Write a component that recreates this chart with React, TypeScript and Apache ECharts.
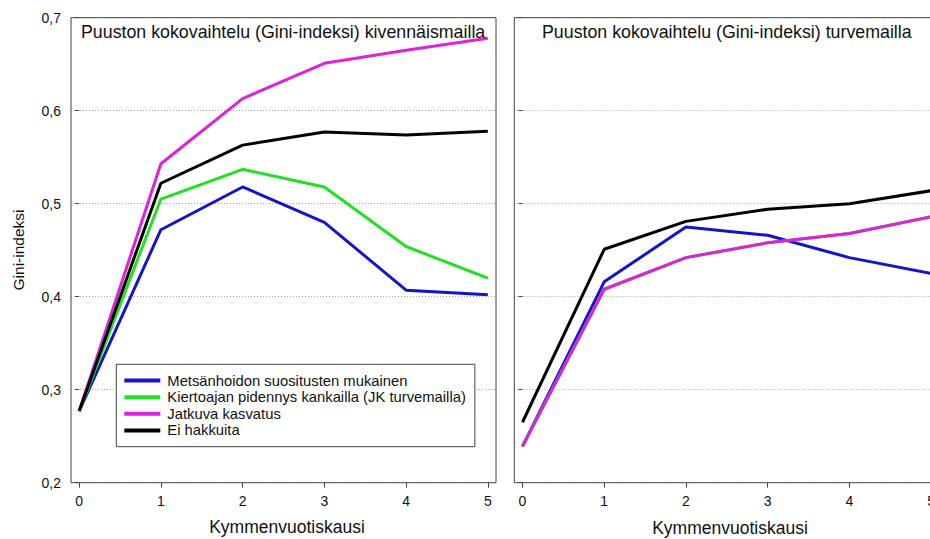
import React, { useEffect, useRef } from "react";
import * as echarts from "echarts";

const periods = [0, 1, 2, 3, 4, 5];
const seriesNames = [
  "Metsänhoidon suositusten mukainen",
  "Kiertoajan pidennys kankailla (JK turvemailla)",
  "Jatkuva kasvatus",
  "Ei hakkuita",
];
const colors = ["#1414c8", "#22e022", "#dc22dc", "#000000"];

// Kivennäismaat (left panel)
const mineralBlue = [0.277, 0.472, 0.518, 0.480, 0.407, 0.402];
const mineralGreen = [0.277, 0.505, 0.537, 0.518, 0.454, 0.420];
const mineralMagenta = [0.277, 0.543, 0.613, 0.651, 0.665, 0.678];
const mineralBlack = [0.277, 0.522, 0.563, 0.577, 0.574, 0.578];

// Turvemaat (right panel)
const peatBlue = [0.239, 0.416, 0.475, 0.466, 0.442, 0.425];
const peatGreen = [0.239, 0.408, 0.442, 0.458, 0.468, 0.486];
const peatMagenta = [0.239, 0.408, 0.442, 0.458, 0.468, 0.486];
const peatBlack = [0.265, 0.451, 0.481, 0.494, 0.500, 0.514];

const panelTitles = [
  "Puuston kokovaihtelu (Gini-indeksi) kivennäismailla",
  "Puuston kokovaihtelu (Gini-indeksi) turvemailla",
];
const xAxisTitle = "Kymmenvuotiskausi";
const yAxisTitle = "Gini-indeksi";

const FONT = "'Liberation Sans', Arial, sans-serif";

export default function App() {
  const ref = useRef<HTMLDivElement>(null);

  useEffect(() => {
    if (!ref.current) return;
    const chart = echarts.init(ref.current, null, { renderer: "svg" });

    const grids = [
      { left: 71, top: 17.7, width: 425, height: 465 },
      { left: 514.3, top: 17.7, width: 425, height: 465 },
    ];

    const toPairs = (vals: number[]) => periods.map((p, i) => [p, vals[i]]);
    const panels = [
      [mineralBlue, mineralGreen, mineralMagenta, mineralBlack],
      [peatBlue, peatGreen, peatMagenta, peatBlack],
    ];

    const series: any[] = [];
    panels.forEach((panel, pi) => {
      panel.forEach((vals, si) => {
        series.push({
          name: seriesNames[si],
          type: "line",
          xAxisIndex: pi,
          yAxisIndex: pi,
          data: toPairs(vals),
          showSymbol: false,
          symbol: "none",
          lineStyle: { color: colors[si], width: 3 },
          itemStyle: { color: colors[si] },
          z: 2 + si,
          clip: true,
        });
      });
    });

    const xAxes = grids.map((_, gi) => ({
      type: "value",
      gridIndex: gi,
      min: -0.1,
      max: 5.1,
      axisLine: { show: false },
      splitLine: { show: false },
      axisTick: {
        show: true,
        customValues: periods,
        length: 5,
        lineStyle: { color: "#444", width: 1 },
      },
      axisLabel: {
        customValues: periods,
        margin: 11,
        color: "#111",
        fontSize: 14,
        fontFamily: FONT,
        formatter: (v: number) => String(v),
      },
    }));

    const yAxes = grids.map((_, gi) => ({
      type: "value",
      gridIndex: gi,
      min: 0.2,
      max: 0.7,
      interval: 0.1,
      axisLine: { show: false },
      axisTick: { show: true, length: 4, lineStyle: { color: "#444", width: 1 } },
      splitLine: {
        show: true,
        lineStyle: { color: "#a8a8a8", width: 1, type: [1, 2] },
      },
      axisLabel: {
        show: gi === 0,
        margin: 10,
        color: "#111",
        fontSize: 14,
        fontFamily: FONT,
        formatter: (v: number) => v.toFixed(1).replace(".", ","),
      },
    }));

    const graphic: any[] = [];
    grids.forEach((g, gi) => {
      graphic.push({
        type: "rect",
        shape: { x: g.left, y: g.top, width: g.width, height: g.height },
        style: { fill: "none", stroke: "#444", lineWidth: 1 },
        z: 100,
        silent: true,
      });
      graphic.push({
        type: "text",
        x: gi === 0 ? 81 : 542,
        y: 31.5,
        style: {
          text: panelTitles[gi],
          fontSize: 17.8,
          fontFamily: FONT,
          fill: "#111",
          textAlign: "left",
          textVerticalAlign: "middle",
        },
        z: 100,
      });
    });
    graphic.push({
      type: "text",
      x: 287,
      y: 527,
      style: {
        text: xAxisTitle,
        fontSize: 17.5,
        fontFamily: FONT,
        fill: "#111",
        textAlign: "center",
        textVerticalAlign: "middle",
      },
      z: 100,
    });
    graphic.push({
      type: "text",
      x: 730,
      y: 528,
      style: {
        text: xAxisTitle,
        fontSize: 17.5,
        fontFamily: FONT,
        fill: "#111",
        textAlign: "center",
        textVerticalAlign: "middle",
      },
      z: 100,
    });
    graphic.push({
      type: "text",
      x: 18.3,
      y: 250,
      rotation: Math.PI / 2,
      style: {
        text: yAxisTitle,
        fontSize: 15.5,
        fontFamily: FONT,
        fill: "#111",
        textAlign: "center",
        textVerticalAlign: "middle",
      },
      z: 100,
    });

    chart.setOption({
      animation: false,
      backgroundColor: "#ffffff",
      grid: grids.map((g) => ({ ...g, containLabel: false })),
      xAxis: xAxes,
      yAxis: yAxes,
      legend: {
        data: seriesNames,
        orient: "vertical",
        left: 116.3,
        top: 364.3,
        padding: [8, 9, 8, 8],
        itemGap: 0,
        itemWidth: 36,
        itemHeight: 4,
        icon: "rect",
        borderColor: "#444",
        borderWidth: 1,
        borderRadius: 0,
        backgroundColor: "#ffffff",
        selectedMode: false,
        textStyle: {
          fontSize: 14.8,
          fontFamily: FONT,
          color: "#111",
          lineHeight: 16.6,
          padding: [0, 0, 0, 2],
        },
        z: 50,
      },
      graphic,
      series,
    });

    return () => chart.dispose();
  }, []);

  return (
    <div
      style={{
        position: "absolute",
        left: 0,
        top: 0,
        width: 930,
        height: 539,
        overflow: "hidden",
      }}
    >
      <div ref={ref} style={{ width: 960, height: 539 }} />
    </div>
  );
}
